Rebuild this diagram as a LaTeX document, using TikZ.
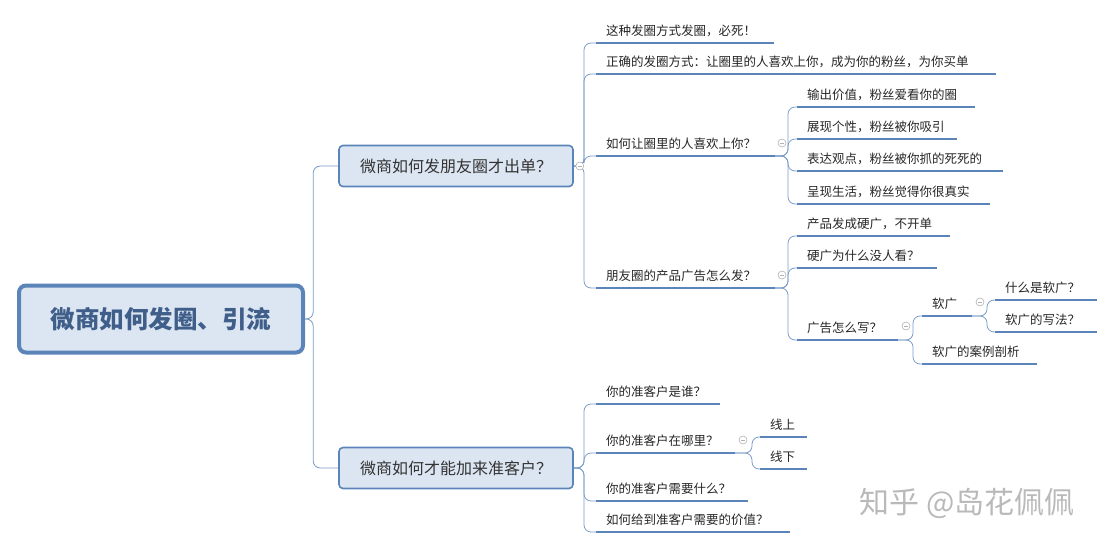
\documentclass[tikz,border=0pt]{standalone}
\usepackage{fontspec}
\setmainfont{Noto Sans CJK SC}
\usetikzlibrary{calc}
\definecolor{ulc}{HTML}{5B84B8}
\definecolor{cnc}{HTML}{7A9CC8}
\definecolor{boxf}{HTML}{DCE6F2}
\definecolor{boxd}{HTML}{5B84B8}
\definecolor{rtxt}{HTML}{3F5F8A}
\tikzset{
 ul/.style={draw=ulc,line width=2.6pt},
 conn/.style={draw=cnc,line width=0.8pt,rounded corners=7pt},
 leaftext/.style={font=\fontsize{12.5}{14}\selectfont,anchor=base west,inner sep=0pt,text=black!85},
 branchbox/.style={draw=boxd,fill=boxf,line width=1.6pt,rounded corners=4pt,minimum width=234pt,minimum height=41pt,font=\fontsize{16}{18}\selectfont,text=black!80},
 rootbox/.style={draw=boxd,fill=boxf,line width=4pt,rounded corners=7pt,minimum width=284pt,minimum height=67pt,font=\fontsize{24.5}{28}\selectfont\bfseries,text=rtxt},
 coll/.style={circle,draw=gray!60,fill=white,line width=0.6pt,minimum size=8pt,inner sep=0pt,path picture={\draw[gray!60,line width=0.6pt] ([xshift=-2pt]path picture bounding box.center)--([xshift=2pt]path picture bounding box.center);}}
}
\newcommand{\leaf}[5]{%
 \coordinate (#1-s) at (#2,#4);
 \coordinate (#1-e) at (#3,#4);
 \draw[ul] (#1-s)--(#1-e);
 \node[leaftext] (#1) at ($(#1-s)+(10,-8)$) {#5};}
\newcommand{\link}[3]{\draw[conn] (#1) -| ($(#2-s)+(-#3,0)$) -- (#2-s);}
\begin{document}
\begin{tikzpicture}[x=1pt,y=-1pt]
\useasboundingbox (0,0) rectangle (1115,550);
\node[rootbox] (root) at (161,319) {微商如何发圈、引流};
\node[branchbox] (b1) at (456,166) {微商如何发朋友圈才出单？};
\node[branchbox] (b2) at (456,468) {微商如何才能加来准客户？};
\draw[conn] (root.east) -| ($(b1.west)+(-25,0)$) -- (b1.west);
\draw[conn] (root.east) -| ($(b2.west)+(-25,0)$) -- (b2.west);
% branch 1
\leaf{a1}{596}{774}{43}{这种发圈方式发圈，必死！}
\leaf{a2}{596}{996}{74}{正确的发圈方式：让圈里的人喜欢上你，成为你的粉丝，为你买单}
\leaf{a3}{596}{775}{156}{如何让圈里的人喜欢上你？}
\leaf{a4}{596}{775}{288}{朋友圈的产品广告怎么发？}
\foreach \c in {a1,a2,a3,a4}{\link{b1.east}{\c}{12}}
\leaf{c1}{797}{975}{107}{输出价值，粉丝爱看你的圈}
\leaf{c2}{797}{957}{139}{展现个性，粉丝被你吸引}
\leaf{c3}{797}{1003}{171}{表达观点，粉丝被你抓的死死的}
\leaf{c4}{797}{990}{204}{呈现生活，粉丝觉得你很真实}
\foreach \c in {c1,c2,c3,c4}{\link{a3-e}{\c}{9}}
\leaf{d1}{797}{950}{236}{产品发成硬广，不开单}
\leaf{d2}{797}{937}{268}{硬广为什么没人看？}
\leaf{d3}{797}{898}{340}{广告怎么写？}
\foreach \c in {d1,d2,d3}{\link{a4-e}{\c}{9}}
\leaf{e1}{922}{972}{316}{软广}
\leaf{e2}{922}{1037}{364}{软广的案例剖析}
\foreach \c in {e1,e2}{\link{d3-e}{\c}{9}}
\leaf{f1}{995}{1097}{300}{什么是软广？}
\leaf{f2}{995}{1097}{332}{软广的写法？}
\foreach \c in {f1,f2}{\link{e1-e}{\c}{8}}
% branch 2
\leaf{g1}{596}{720}{404}{你的准客户是谁？}
\leaf{g2}{596}{735}{453}{你的准客户在哪里？}
\leaf{g3}{596}{748}{501}{你的准客户需要什么？}
\leaf{g4}{596}{790}{532}{如何给到准客户需要的价值？}
\foreach \c in {g1,g2,g3,g4}{\link{b2.east}{\c}{12}}
\leaf{h1}{760}{807}{437}{线上}
\leaf{h2}{760}{807}{469}{线下}
\foreach \c in {h1,h2}{\link{g2-e}{\c}{8}}
% collapse markers
\node[coll] (k1) at ($(b1.east)+(6,0)$) {};
\node[coll] (k2) at ($(a3-e)+(7,-13)$) {};
\node[coll] (k3) at ($(a4-e)+(7,-13)$) {};
\node[coll] (k4) at ($(d3-e)+(8,-14)$) {};
\node[coll] (k5) at ($(e1-e)+(8,-14)$) {};
\node[coll] (k6) at ($(g2-e)+(8,-13)$) {};
\node[font=\fontsize{30}{33}\selectfont,text=gray!55,anchor=center] (wm) at (967,503) {知乎 @岛花佩佩};
\end{tikzpicture}
\end{document}
